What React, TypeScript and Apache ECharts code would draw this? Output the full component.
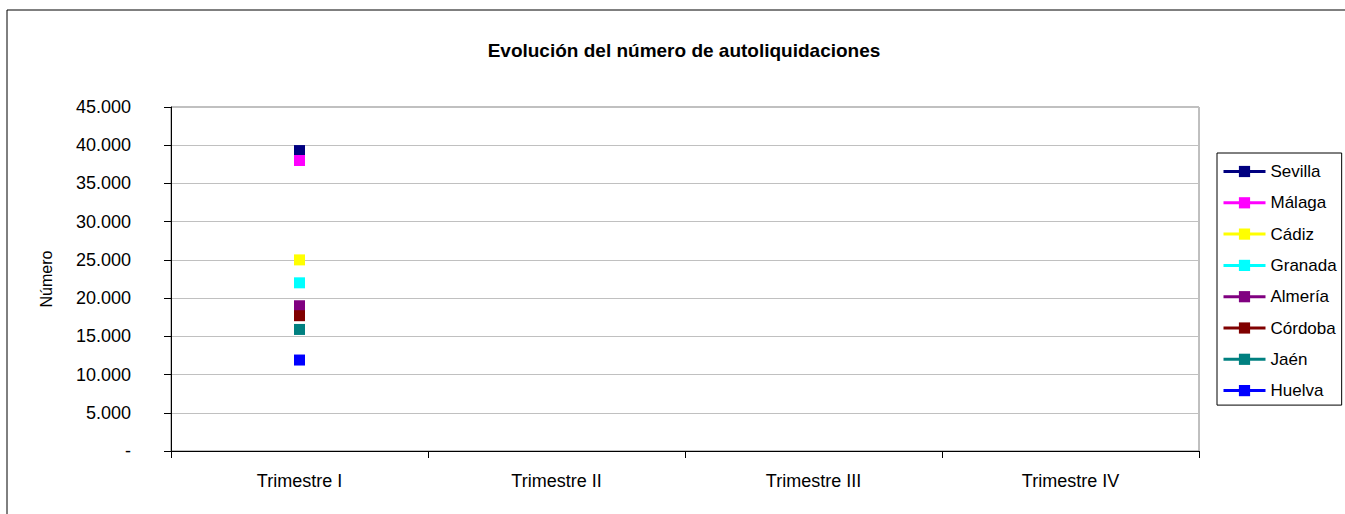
import React, { useEffect, useRef } from "react";
import * as echarts from "echarts";

const categories = ["Trimestre I", "Trimestre II", "Trimestre III", "Trimestre IV"];
const provinces = ["Sevilla", "Málaga", "Cádiz", "Granada", "Almería", "Córdoba", "Jaén", "Huelva"];
const colors = ["#000080", "#FF00FF", "#FFFF00", "#00FFFF", "#800080", "#800000", "#008080", "#0000FF"];
const sevilla = [39300, null, null, null];
const malaga = [38000, null, null, null];
const cadiz = [25000, null, null, null];
const granada = [22000, null, null, null];
const almeria = [19000, null, null, null];
const cordoba = [17700, null, null, null];
const jaen = [15900, null, null, null];
const huelva = [11900, null, null, null];
const seriesValues = [sevilla, malaga, cadiz, granada, almeria, cordoba, jaen, huelva];
const title = "Evolución del número de autoliquidaciones";
const yAxisName = "Número";

const FONT = "'Liberation Sans', Arial, sans-serif";

function fmt(v: number): string {
  if (v === 0) return "-";
  return String(Math.round(v)).replace(/\B(?=(\d{3})+(?!\d))/g, ".");
}

export default function App() {
  const ref = useRef<HTMLDivElement>(null);
  useEffect(() => {
    if (!ref.current) return;
    const chart = echarts.init(ref.current, null, { renderer: "svg" });
    chart.setOption({
      animation: false,
      backgroundColor: "#ffffff",
      textStyle: { fontFamily: FONT },
      title: {
        text: title,
        left: 679,
        top: 36,
        textAlign: "center",
        textStyle: { fontFamily: FONT, fontSize: 19, fontWeight: "bold", color: "#000" },
      },
      graphic: [
        {
          type: "rect",
          shape: { x: 7, y: 10, width: 1400, height: 600 },
          style: { fill: "none", stroke: "#000", lineWidth: 1 },
          silent: true,
          z: -1,
        },
        {
          type: "text",
          x: 46,
          y: 279,
          rotation: Math.PI / 2,
          style: {
            text: yAxisName,
            fontFamily: FONT,
            fontSize: 16,
            fill: "#000",
            align: "center",
            verticalAlign: "middle",
          },
        },
      ],
      legend: {
        orient: "vertical",
        left: 1217,
        top: 153,
        padding: [10, 5, 6, 5],
        borderColor: "#000",
        borderWidth: 1,
        itemWidth: 42,
        itemHeight: 14,
        itemGap: 14.3,
        itemTextGap: 5,
        lineStyle: { width: 3 },
        textStyle: { fontFamily: FONT, fontSize: 17, color: "#000", lineHeight: 14 },
        data: provinces,
      },
      grid: {
        left: 171,
        top: 107,
        width: 1028,
        height: 344,
        show: true,
        borderColor: "#808080",
        borderWidth: 1,
        containLabel: false,
      },
      xAxis: {
        type: "category",
        data: categories,
        boundaryGap: true,
        axisLine: { lineStyle: { color: "#000", width: 1 } },
        axisTick: { show: true, length: 7, lineStyle: { color: "#000" } },
        axisLabel: { fontFamily: FONT, fontSize: 18, color: "#000", margin: 21 },
        splitLine: { show: false },
      },
      yAxis: {
        type: "value",
        min: 0,
        max: 45000,
        interval: 5000,
        axisLine: { show: true, lineStyle: { color: "#000", width: 1 } },
        axisTick: { show: true, length: 7, lineStyle: { color: "#000" } },
        axisLabel: {
          fontFamily: FONT,
          fontSize: 18,
          color: "#000",
          margin: 40,
          formatter: (v: number) => fmt(v),
        },
        splitLine: { show: true, lineStyle: { color: "#c0c0c0", width: 1 } },
      },
      series: provinces.map((name, i) => ({
        name,
        type: "line",
        data: seriesValues[i],
        symbol: "rect",
        symbolSize: 11,
        showSymbol: true,
        showAllSymbol: true,
        connectNulls: false,
        itemStyle: { color: colors[i] },
        lineStyle: { color: colors[i], width: 3 },
      })),
    });
    return () => chart.dispose();
  }, []);
  return (
    <div
      ref={ref}
      style={{ position: "absolute", left: 0, top: 0, width: 1345, height: 514 }}
    />
  );
}
